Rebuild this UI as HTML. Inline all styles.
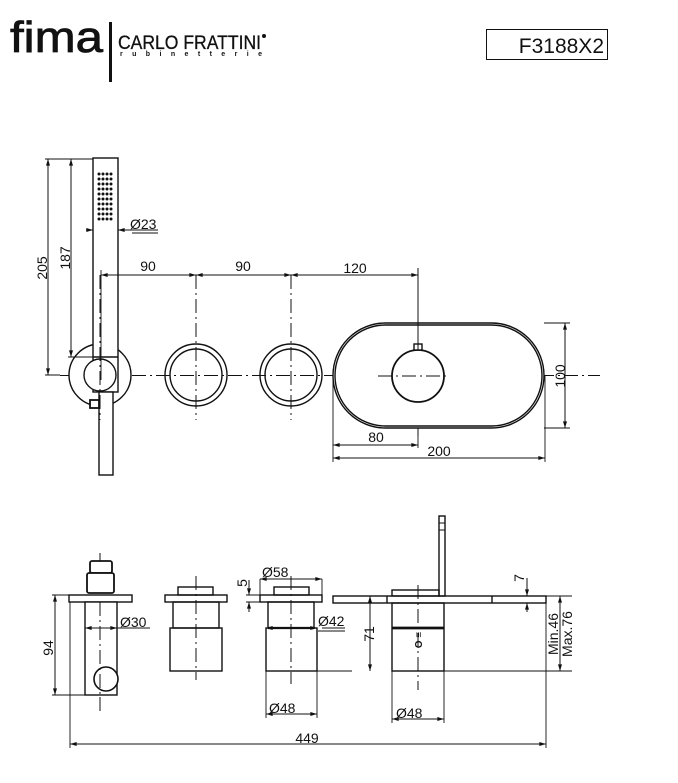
<!DOCTYPE html>
<html><head><meta charset="utf-8"><style>
html,body{margin:0;padding:0;background:#fff;}
svg{display:block;}
text{font-family:"Liberation Sans",Arial,sans-serif;fill:#111;}
</style></head><body>
<svg width="678" height="783" viewBox="0 0 678 783" xmlns="http://www.w3.org/2000/svg">
<defs>
<marker id="a" viewBox="0 0 10 6" refX="10" refY="3" markerWidth="7" markerHeight="4" orient="auto-start-reverse" markerUnits="userSpaceOnUse"><path d="M0,0L10,3L0,6z" fill="#111"/></marker>
</defs>
<!-- header -->
<text x="10" y="52" font-size="44" textLength="93" lengthAdjust="spacingAndGlyphs" stroke="#111" stroke-width="0.8">fima</text>
<rect x="109" y="22" width="3" height="60" fill="#111"/>
<text x="118" y="49" font-size="19" textLength="143" lengthAdjust="spacingAndGlyphs" stroke="#111" stroke-width="0.3">CARLO FRATTINI</text>
<circle cx="264" cy="36" r="2" fill="#111"/>
<text x="120" y="56" font-size="7" font-weight="bold" textLength="142" lengthAdjust="spacing">rubinetterie</text>
<rect x="486.5" y="29.5" width="121" height="30" fill="none" stroke="#111" stroke-width="1"/>
<text x="604" y="53" font-size="21" text-anchor="end">F3188X2</text>

<g stroke="#111" stroke-width="1.4" fill="none">
<!-- TOP VIEW -->
<path d="M60 375.5H600" stroke-dasharray="14 4 2 4" stroke-width="1"/>
<path d="M196 275V420M291 275V420M418 278V440" stroke-dasharray="14 4 2 4" stroke-width="1"/>
<circle cx="100" cy="375" r="31" fill="#fff"/>
<rect x="93" y="158" width="25" height="234" fill="#fff"/>
<line x1="93" y1="357" x2="118" y2="357"/>
<circle cx="100" cy="375" r="16" fill="#fff"/>
<rect x="99" y="392" width="14" height="83" fill="#fff"/>
<rect x="90" y="400" width="9" height="8" fill="#fff" stroke-width="1.8"/>
<path d="M100 275V420" stroke-dasharray="14 4 2 4" stroke-width="1"/>
<circle cx="196" cy="375" r="31"/><circle cx="196" cy="375" r="26"/>
<circle cx="291" cy="375" r="31"/><circle cx="291" cy="375" r="26"/>
<rect x="333" y="323" width="211" height="105" rx="52.5" fill="#fff"/>
<rect x="335" y="325" width="207" height="101" rx="50.5"/>
<circle cx="418" cy="376" r="26" stroke-width="1.8"/>
<rect x="414" y="344" width="8" height="6" fill="#fff"/>
<path d="M378 376H450" stroke-dasharray="14 4 2 4" stroke-width="1"/>
<path d="M418 268V350" stroke-width="1"/>
<path d="M45 159H93M45 375H60M68 357H93" stroke-width="0.9"/>
<line x1="48" y1="159" x2="48" y2="375" marker-start="url(#a)" marker-end="url(#a)" stroke-width="1"/>
<line x1="71" y1="159" x2="71" y2="357" marker-start="url(#a)" marker-end="url(#a)" stroke-width="1"/>
<line x1="86" y1="230" x2="93" y2="230" marker-end="url(#a)" stroke-width="1"/>
<line x1="158" y1="230" x2="118" y2="230" marker-end="url(#a)" stroke-width="1"/>
<line x1="101" y1="275" x2="196" y2="275" marker-start="url(#a)" marker-end="url(#a)" stroke-width="1"/>
<line x1="196" y1="275" x2="291" y2="275" marker-start="url(#a)" marker-end="url(#a)" stroke-width="1"/>
<line x1="291" y1="275" x2="418" y2="275" marker-start="url(#a)" marker-end="url(#a)" stroke-width="1"/>
<path d="M101 270V380M544 323H570M544 428H570M333 376V462M545 376V462M418 430V448" stroke-width="0.9"/>
<line x1="565" y1="323" x2="565" y2="428" marker-start="url(#a)" marker-end="url(#a)" stroke-width="1"/>
<line x1="333" y1="445" x2="418" y2="445" marker-start="url(#a)" marker-end="url(#a)" stroke-width="1"/>
<line x1="333" y1="458" x2="545" y2="458" marker-start="url(#a)" marker-end="url(#a)" stroke-width="1"/>

<!-- FRONT VIEW -->
<path d="M100 553V712M196 576V680M291 576V684M418 585V690" stroke-dasharray="14 4 2 4" stroke-width="1"/>
<rect x="90" y="561" width="22" height="12" rx="2" fill="#fff" stroke-width="1.8"/>
<rect x="87" y="573" width="27" height="20" rx="2" fill="#fff" stroke-width="1.8"/>
<rect x="69" y="595" width="63" height="7" fill="#fff"/>
<rect x="85" y="602" width="32" height="93" fill="#fff"/>
<circle cx="106" cy="679" r="12" fill="#fff" stroke-width="1.6"/>
<path d="M100 602V710" stroke-dasharray="14 4 2 4" stroke-width="1"/>
<rect x="178" y="587" width="35" height="8"/>
<rect x="165" y="595" width="62" height="7"/>
<rect x="173" y="602" width="46" height="26"/>
<rect x="170" y="628" width="52" height="43"/>
<rect x="274" y="587" width="35" height="8"/>
<rect x="260" y="595" width="62" height="7"/>
<rect x="268" y="602" width="46" height="26"/>
<rect x="266" y="628" width="51" height="43"/>
<line x1="268" y1="628" x2="314" y2="628" stroke-width="2.2"/>
<rect x="439" y="516" width="6" height="80" fill="#fff"/>
<path d="M439 523H445M439 530H445" stroke-width="1"/>
<rect x="392" y="590" width="47" height="6"/>
<rect x="333" y="596" width="213" height="7"/>
<path d="M387 596V603M492 596V603"/>
<rect x="392" y="603" width="52" height="68"/>
<line x1="392" y1="628" x2="444" y2="628" stroke-width="2.8"/>
<path d="M52 595H69M52 695H85M70 602V748M117 628H150M317 671H352M546 603V748M444 671H572M546 596H572M322 628H345M266 671V718M317 671V718M392 671V723M444 671V723M322 579V595M260 579V595" stroke-width="0.9"/>
<line x1="55" y1="595" x2="55" y2="695" marker-start="url(#a)" marker-end="url(#a)" stroke-width="1"/>
<line x1="85" y1="628" x2="117" y2="628" marker-start="url(#a)" marker-end="url(#a)" stroke-width="1"/>
<line x1="70" y1="744" x2="546" y2="744" marker-start="url(#a)" marker-end="url(#a)" stroke-width="1"/>
<line x1="260" y1="579" x2="322" y2="579" marker-start="url(#a)" marker-end="url(#a)" stroke-width="1"/>
<line x1="266" y1="628" x2="317" y2="628" marker-start="url(#a)" marker-end="url(#a)" stroke-width="1"/>
<line x1="266" y1="714" x2="317" y2="714" marker-start="url(#a)" marker-end="url(#a)" stroke-width="1"/>
<line x1="392" y1="719" x2="444" y2="719" marker-start="url(#a)" marker-end="url(#a)" stroke-width="1"/>
<path d="M246 595H260M246 602H260" stroke-width="0.9"/>
<line x1="249" y1="580" x2="249" y2="595" marker-end="url(#a)" stroke-width="1"/>
<line x1="249" y1="612" x2="249" y2="602" marker-end="url(#a)" stroke-width="1"/>
<line x1="370" y1="596" x2="370" y2="671" marker-start="url(#a)" marker-end="url(#a)" stroke-width="1"/>
<line x1="527" y1="578" x2="527" y2="596" marker-end="url(#a)" stroke-width="1"/>
<line x1="527" y1="612" x2="527" y2="603" marker-end="url(#a)" stroke-width="1"/>
<line x1="560" y1="596" x2="560" y2="671" marker-start="url(#a)" marker-end="url(#a)" stroke-width="1"/>
<path d="M132 233H158M318 631H345" stroke-width="0.9"/>
</g>
<g font-size="14">
<text x="130" y="229">Ø23</text>
<text x="148" y="271" text-anchor="middle">90</text>
<text x="243" y="271" text-anchor="middle">90</text>
<text x="355" y="273" text-anchor="middle">120</text>
<text x="376" y="442" text-anchor="middle">80</text>
<text x="439" y="456" text-anchor="middle">200</text>
<text transform="translate(47,268) rotate(-90)" text-anchor="middle">205</text>
<text transform="translate(70,258) rotate(-90)" text-anchor="middle">187</text>
<text transform="translate(565,376) rotate(-90)" text-anchor="middle">100</text>
<text transform="translate(53,648) rotate(-90)" text-anchor="middle">94</text>
<text x="120" y="627">Ø30</text>
<text x="262" y="577">Ø58</text>
<text x="318" y="626">Ø42</text>
<text x="269" y="713">Ø48</text>
<text x="396" y="718">Ø48</text>
<text x="307" y="743" text-anchor="middle">449</text>
<text transform="translate(247,583) rotate(-90)" text-anchor="middle">5</text>
<text transform="translate(524,578) rotate(-90)" text-anchor="middle">7</text>
<text transform="translate(374,634) rotate(-90)" text-anchor="middle">71</text>
<text transform="translate(558,634) rotate(-90)" text-anchor="middle">Min.46</text>
<text transform="translate(572,634) rotate(-90)" text-anchor="middle">Max.76</text>
<text transform="translate(422,640) rotate(-90)" text-anchor="middle" font-size="10" font-weight="bold">O ≡</text>
</g>
<g fill="#111">
<circle cx="99" cy="174" r="1.5"/><circle cx="103" cy="174" r="1.5"/><circle cx="107" cy="174" r="1.5"/><circle cx="111" cy="174" r="1.5"/>
<circle cx="99" cy="179" r="1.5"/><circle cx="103" cy="179" r="1.5"/><circle cx="107" cy="179" r="1.5"/><circle cx="111" cy="179" r="1.5"/>
<circle cx="99" cy="184" r="1.5"/><circle cx="103" cy="184" r="1.5"/><circle cx="107" cy="184" r="1.5"/><circle cx="111" cy="184" r="1.5"/>
<circle cx="99" cy="189" r="1.5"/><circle cx="103" cy="189" r="1.5"/><circle cx="107" cy="189" r="1.5"/><circle cx="111" cy="189" r="1.5"/>
<circle cx="99" cy="194" r="1.5"/><circle cx="103" cy="194" r="1.5"/><circle cx="107" cy="194" r="1.5"/><circle cx="111" cy="194" r="1.5"/>
<circle cx="99" cy="199" r="1.5"/><circle cx="103" cy="199" r="1.5"/><circle cx="107" cy="199" r="1.5"/><circle cx="111" cy="199" r="1.5"/>
<circle cx="99" cy="204" r="1.5"/><circle cx="103" cy="204" r="1.5"/><circle cx="107" cy="204" r="1.5"/><circle cx="111" cy="204" r="1.5"/>
<circle cx="99" cy="209" r="1.5"/><circle cx="103" cy="209" r="1.5"/><circle cx="107" cy="209" r="1.5"/><circle cx="111" cy="209" r="1.5"/>
<circle cx="99" cy="214" r="1.5"/><circle cx="103" cy="214" r="1.5"/><circle cx="107" cy="214" r="1.5"/><circle cx="111" cy="214" r="1.5"/>
<circle cx="99" cy="219" r="1.5"/><circle cx="103" cy="219" r="1.5"/><circle cx="107" cy="219" r="1.5"/><circle cx="111" cy="219" r="1.5"/>
</g>
</svg>
</body></html>
